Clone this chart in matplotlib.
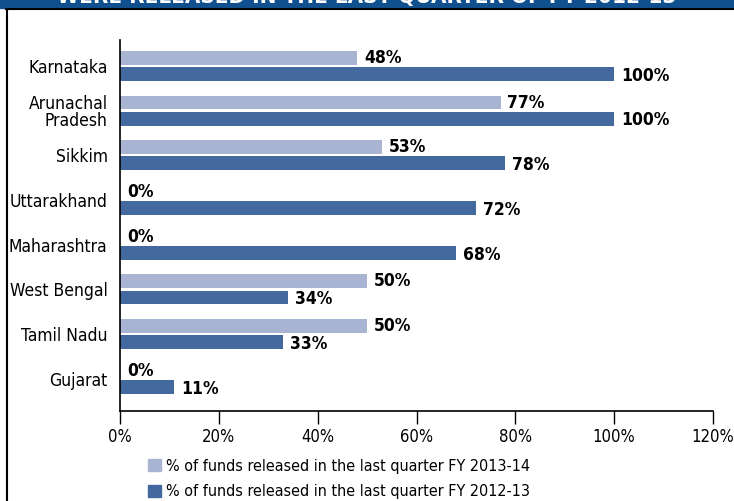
import numpy as np
import matplotlib.pyplot as plt
from matplotlib.lines import Line2D
from matplotlib.patches import Rectangle

states = ['Karnataka', 'Arunachal\nPradesh', 'Sikkim', 'Uttarakhand',
          'Maharashtra', 'West Bengal', 'Tamil Nadu', 'Gujarat']
fy_2013_14 = [48, 77, 53, 0, 0, 50, 50, 0]
fy_2012_13 = [100, 100, 78, 72, 68, 34, 33, 11]
x_ticks = [0, 20, 40, 60, 80, 100, 120]
legend_labels = ['% of funds released in the last quarter FY 2013-14',
                 '% of funds released in the last quarter FY 2012-13']
title = 'WERE RELEASED IN THE LAST QUARTER OF FY 2012-13'

LIGHT = '#a9b4d3'
DARK = '#44699f'
BAND = '#11508e'

plt.rcParams['font.family'] = ['DejaVu Sans']
plt.rcParams['font.stretch'] = 'condensed'

fig = plt.figure(figsize=(7.34, 5.01), dpi=100)
ax = fig.add_axes([0.1635, 0.1796, 0.9714 - 0.1635, 0.9202 - 0.1796])

y = np.arange(len(states))
h = 0.31
off = 0.18
ax.barh(y - off, fy_2013_14, height=h, color=LIGHT)
ax.barh(y + off, fy_2012_13, height=h, color=DARK)

for yi, v in zip(y, fy_2013_14):
    ax.text(v + 1.4, yi - off, f'{v}%', va='center', ha='left',
            fontsize=12.5, fontweight='bold')
for yi, v in zip(y, fy_2012_13):
    ax.text(v + 1.4, yi + off + 0.04, f'{v}%', va='center', ha='left',
            fontsize=12.5, fontweight='bold')

ax.set_xlim(0, 120)
ax.set_ylim(7.72, -0.58)
ax.set_xticks(x_ticks)
ax.set_xticklabels([f'{t}%' for t in x_ticks], fontsize=12)
ax.set_yticks(y)
ax.set_yticklabels(states, fontsize=12.5, linespacing=0.95)
ax.tick_params(axis='y', length=0, pad=9)
ax.tick_params(axis='x', length=9, width=1, pad=3)
for s in ['top', 'right']:
    ax.spines[s].set_visible(False)
for s in ['left', 'bottom']:
    ax.spines[s].set_linewidth(1.2)

handles = [Rectangle((0, 0), 1, 1, color=LIGHT), Rectangle((0, 0), 1, 1, color=DARK)]
fig.legend(handles, legend_labels, loc='upper left', bbox_to_anchor=(0.2016, 0.084),
           frameon=False, fontsize=11.5, handlelength=0.8, handleheight=0.8,
           handletextpad=0.35, labelspacing=0.65, borderpad=0, borderaxespad=0)

# top banner and frame
fig.patches.append(Rectangle((0, 1 - 8 / 501), 1, 8 / 501, transform=fig.transFigure,
                             color=BAND, zorder=0))
fig.text(0.5, 1 - 7 / 501, title, ha='center', va='bottom', color='white',
         fontsize=16, fontweight='bold')
fig.add_artist(Line2D([6 / 734, 1], [1 - 8.5 / 501] * 2, transform=fig.transFigure,
                      color='black', lw=1.5))
fig.add_artist(Line2D([6.5 / 734] * 2, [0, 1 - 8.5 / 501], transform=fig.transFigure,
                      color='black', lw=1.5))

fig.savefig('out.png', dpi=100)
